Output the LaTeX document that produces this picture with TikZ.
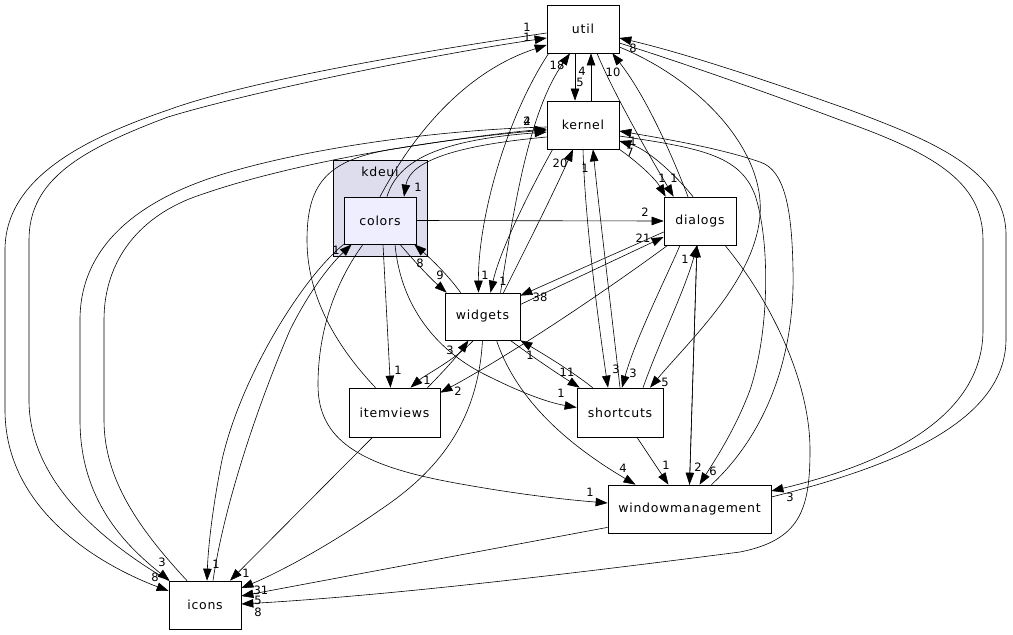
\documentclass[tikz,border=0pt]{standalone}
\usepackage{fontspec}
\setmainfont{DejaVu Sans}
\newfontfamily\nodefont[LetterSpace=6]{DejaVu Sans}
\usetikzlibrary{arrows.meta,calc}
\definecolor{clusterbg}{HTML}{DDDDEE}
\definecolor{colorsbg}{HTML}{EEEEFF}
\tikzset{
  box/.style={draw=black, fill=white, line width=0.7pt, minimum width=72pt, minimum height=48pt, inner sep=0pt, font=\nodefont\fontsize{12.5}{14}\selectfont},
  clusterbox/.style={draw=black, fill=clusterbg, line width=0.7pt, minimum width=94pt, minimum height=96pt, inner sep=0pt},
  dep/.style={draw=black, line width=0.6pt, -{Triangle[length=12pt,width=8.5pt]}},
  lbl/.style={font=\fontsize{11.5}{13}\selectfont, inner sep=0pt},
  clbl/.style={font=\nodefont\fontsize{12.5}{14}\selectfont, inner sep=0pt}
}
\begin{document}
\begin{tikzpicture}[x=1pt,y=-1pt]
\useasboundingbox (0,0) rectangle (1013,635);
% cluster
\node[clusterbox] (kdeui) at (380,208) {};
\node[clbl] (kdeuilbl) at (380,172) {kdeui};
% nodes
\node[box] (util) at (583,29) {util};
\node[box] (kernel) at (583,125) {kernel};
\node[box, fill=colorsbg, minimum height=47pt] (colors) at (380,220.5) {colors};
\node[box] (dialogs) at (700,221) {dialogs};
\node[box, minimum width=75pt, minimum height=47pt] (widgets) at (482.5,316.5) {widgets};
\node[box, minimum width=91pt, minimum height=49pt] (itemviews) at (394.5,412.5) {itemviews};
\node[box, minimum width=86pt, minimum height=49pt] (shortcuts) at (620,412.5) {shortcuts};
\node[box, minimum width=163pt] (wm) at (689.5,509) {windowmanagement};
\node[box] (icons) at (205,605) {icons};

% ---- long left curves (util / kernel <-> icons)
\draw[dep] ($(util.west)+(0,4)$) .. controls (430,50) and (250,80) .. (168,110) .. controls (80,140) and (5,180) .. (5,250) -- (5,410) .. controls (5,510) and (100,565) .. ($(icons.west)+(0,-14)$);
\draw[dep] (icons.north west) .. controls (100,540) and (29,480) .. (29,400) -- (29,240) .. controls (29,180) and (80,150) .. (168,117) .. controls (250,92) and (430,55) .. ($(util.west)+(0,9)$);
\draw[dep] ($(kernel.west)+(0,2)$) .. controls (430,130) and (300,150) .. (220,175) .. controls (140,200) and (80,245) .. (80,320) -- (80,420) .. controls (80,500) and (125,545) .. ($(icons.north west)+(1,0)$);
\draw[dep] ($(icons.north)+(-18,0)$) .. controls (140,530) and (104,480) .. (104,420) -- (104,320) .. controls (104,260) and (140,215) .. (200,195) .. controls (300,160) and (450,138) .. ($(kernel.west)+(0,5)$);
\draw[dep] ($(itemviews.north)+(-19,0)$) .. controls (340,350) and (307,300) .. (307,240) .. controls (307,180) and (330,158) .. (400,148) .. controls (450,140) and (500,133) .. ($(kernel.west)+(0,4)$);

% ---- colors
\draw[dep] (colors.north) .. controls (405,150) and (455,75) .. ($(util.west)+(0,16)$);
\draw[dep] ($(colors.north)+(7,0)$) .. controls (398,160) and (440,140) .. ($(kernel.west)+(0,7)$);
\draw[dep] ($(kernel.west)+(0,12)$) .. controls (460,145) and (410,160) .. ($(colors.north)+(24,0)$);
\draw[dep] (colors.east) -- (dialogs.west);
\draw[dep] ($(colors.south)+(20,0)$) .. controls (415,262) and (430,278) .. ($(widgets.north west)+(2,0)$);
\draw[dep] ($(widgets.north west)+(16,0)$) .. controls (448,275) and (430,258) .. ($(colors.south east)+(-2,0)$);
\draw[dep] ($(colors.south)+(3,0)$) -- ($(itemviews.north)+(-4,0)$);
\draw[dep] ($(colors.south)+(15,0)$) .. controls (400,300) and (430,345) .. (480,372) .. controls (515,390) and (545,402) .. ($(shortcuts.west)+(0,-5)$);
\draw[dep] ($(colors.south)+(-17,0)$) .. controls (330,290) and (318,340) .. (318,385) .. controls (318,440) and (360,465) .. (450,482) .. controls (520,495) and (570,500) .. ($(wm.west)+(0,-6)$);
\draw[dep] (colors.south west) .. controls (300,280) and (240,380) .. (222,460) .. controls (212,510) and (208,550) .. ($(icons.north)+(2,0)$);
\draw[dep] ($(icons.north)+(8,0)$) .. controls (225,500) and (260,400) .. (290,330) .. controls (310,290) and (330,265) .. ($(colors.south west)+(8,0)$);

% ---- util / kernel
\draw[dep] ($(util.south)+(-8,0)$) -- ($(kernel.north)+(-8,0)$);
\draw[dep] ($(kernel.north)+(8,0)$) -- ($(util.south)+(8,0)$);
\draw[dep] ($(widgets.north)+(18,0)$) .. controls (515,200) and (530,110) .. ($(util.south)+(-13,0)$);
\draw[dep] ($(util.south west)+(2,0)$) .. controls (505,120) and (478,220) .. ($(widgets.north)+(-4,0)$);
\draw[dep] ($(kernel.south west)+(6,0)$) .. controls (530,190) and (500,250) .. ($(widgets.north)+(8,0)$);
\draw[dep] ($(widgets.north)+(21,0)$) .. controls (525,250) and (555,190) .. ($(kernel.south)+(-10,0)$);
\draw[dep] ($(dialogs.north)+(-12,0)$) .. controls (670,150) and (645,95) .. ($(util.south east)+(-7,0)$);
\draw[dep] ($(util.south)+(14,0)$) .. controls (610,85) and (640,140) .. ($(dialogs.north west)+(10,0)$);
\draw[dep] (kernel.south east) .. controls (635,160) and (655,178) .. ($(dialogs.north west)+(2,0)$);
\draw[dep] ($(dialogs.north)+(-7,0)$) .. controls (680,180) and (650,150) .. ($(kernel.east)+(0,16)$);

% ---- right side big curves
\draw[dep] ($(wm.east)+(0,-12)$) .. controls (900,465) and (1005,420) .. (1006,340) -- (1006,235) .. controls (1006,170) and (930,140) .. (850,110) .. controls (760,78) and (680,52) .. ($(util.east)+(0,9)$);
\draw[dep] ($(util.east)+(0,14)$) .. controls (680,62) and (760,90) .. (840,120) .. controls (930,152) and (983,180) .. (983,240) -- (983,330) .. controls (983,420) and (880,465) .. ($(wm.east)+(0,-18)$);
\draw[dep] ($(util.east)+(0,18)$) .. controls (700,80) and (765,150) .. (760,215) .. controls (755,280) and (690,340) .. ($(shortcuts.north)+(30,0)$);
\draw[dep] ($(kernel.east)+(0,11)$) .. controls (700,148) and (740,155) .. (755,195) .. controls (770,240) and (770,330) .. (750,390) .. controls (735,430) and (715,460) .. ($(wm.north)+(10,0)$);
\draw[dep] ($(wm.north)+(22,0)$) .. controls (770,430) and (795,350) .. (793,270) .. controls (792,210) and (785,170) .. (760,162) .. controls (720,148) and (660,138) .. ($(kernel.east)+(0,6)$);
\draw[dep] ($(dialogs.south)+(25,0)$) .. controls (770,300) and (810,380) .. (810,450) .. controls (810,510) and (800,540) .. (740,552) .. controls (600,570) and (400,595) .. ($(icons.east)+(0,-1)$);

% ---- dialogs
\draw[dep] ($(widgets.east)+(0,-12)$) -- ($(dialogs.west)+(0,16)$);
\draw[dep] ($(dialogs.west)+(0,11)$) -- ($(widgets.north east)+(0,3)$);
\draw[dep] ($(dialogs.south west)+(4,0)$) .. controls (600,295) and (510,355) .. ($(itemviews.north east)+(0,5)$);
\draw[dep] ($(dialogs.south)+(-20,0)$) .. controls (665,280) and (635,340) .. ($(shortcuts.north)+(2,0)$);
\draw[dep] ($(shortcuts.north)+(23,0)$) .. controls (660,340) and (685,290) .. ($(dialogs.south)+(-3,0)$);
\draw[dep] ($(dialogs.south)+(-3,0)$) -- (wm.north);
\draw[dep] (wm.north) -- ($(dialogs.south)+(-3,0)$);

% ---- kernel / shortcuts
\draw[dep] (shortcuts.north) .. controls (610,300) and (598,200) .. ($(kernel.south)+(10,0)$);
\draw[dep] (kernel.south) .. controls (585,220) and (598,320) .. ($(shortcuts.north)+(-12,0)$);

% ---- widgets
\draw[dep] ($(widgets.south east)+(-10,0)$) .. controls (530,355) and (555,372) .. ($(shortcuts.north west)+(3,0)$);
\draw[dep] ($(shortcuts.north west)+(16,0)$) .. controls (570,370) and (545,355) .. (widgets.south east);
\draw[dep] ($(widgets.south)+(-9,0)$) .. controls (455,360) and (425,375) .. ($(itemviews.north)+(16,0)$);
\draw[dep] ($(itemviews.north)+(33,0)$) .. controls (445,370) and (458,355) .. ($(widgets.south)+(-14,0)$);
\draw[dep] ($(widgets.south)+(14,0)$) .. controls (515,395) and (560,440) .. ($(wm.north)+(-54,0)$);
\draw[dep] (widgets.south) .. controls (478,420) and (440,470) .. (380,510) .. controls (330,545) and (280,572) .. ($(icons.east)+(0,-17)$);

% ---- others
\draw[dep] ($(shortcuts.south)+(17,0)$) -- ($(wm.north)+(-21,0)$);
\draw[dep] ($(wm.south west)+(0,-6)$) -- ($(icons.east)+(0,-9)$);
\draw[dep] ($(itemviews.south)+(-22,0)$) -- ($(icons.north)+(25,0)$);

% ---- labels
\node[lbl] (la1) at (527,27) {1};
\node[lbl] (la2) at (527,37) {1};
\node[lbl] (la3) at (557,65) {18};
\node[lbl] (la4) at (582,71) {4};
\node[lbl] (la5) at (580,82) {5};
\node[lbl] (la6) at (613,72) {10};
\node[lbl] (la7) at (633,48) {8};
\node[lbl] (la8) at (527,121) {2};
\node[lbl] (la9) at (527,121) {4};
\node[lbl] (la10) at (633,141) {1};
\node[lbl] (la11) at (630,152) {7};
\node[lbl] (la12) at (560,163) {20};
\node[lbl] (la13) at (585,168) {1};
\node[lbl] (la14) at (418,187) {1};
\node[lbl] (la15) at (662,178) {1};
\node[lbl] (la16) at (674,178) {1};
\node[lbl] (la17) at (645,212) {2};
\node[lbl] (la18) at (643,238) {21};
\node[lbl] (la19) at (540,297) {38};
\node[lbl] (la20) at (485,275) {1};
\node[lbl] (la21) at (503,281) {1};
\node[lbl] (la22) at (440,275) {9};
\node[lbl] (la23) at (420,263) {8};
\node[lbl] (la24) at (336,250) {1};
\node[lbl] (la25) at (685,259) {1};
\node[lbl] (la26) at (398,370) {1};
\node[lbl] (la27) at (427,380) {1};
\node[lbl] (la28) at (450,350) {3};
\node[lbl] (la29) at (458,391) {2};
\node[lbl] (la30) at (530,355) {1};
\node[lbl] (la31) at (567,372) {11};
\node[lbl] (la32) at (561,393) {1};
\node[lbl] (la33) at (616,369) {3};
\node[lbl] (la34) at (633,373) {3};
\node[lbl] (la35) at (665,382) {5};
\node[lbl] (la36) at (623,468) {4};
\node[lbl] (la37) at (666,465) {1};
\node[lbl] (la38) at (698,467) {2};
\node[lbl] (la39) at (713,471) {6};
\node[lbl] (la40) at (790,497) {3};
\node[lbl] (la41) at (590,492) {1};
\node[lbl] (la42) at (162,562) {3};
\node[lbl] (la43) at (155,577) {8};
\node[lbl] (la44) at (216,564) {1};
\node[lbl] (la45) at (246,573) {1};
\node[lbl] (la46) at (261,590) {31};
\node[lbl] (la47) at (258,600) {5};
\node[lbl] (la48) at (258,612) {8};
\end{tikzpicture}
\end{document}
